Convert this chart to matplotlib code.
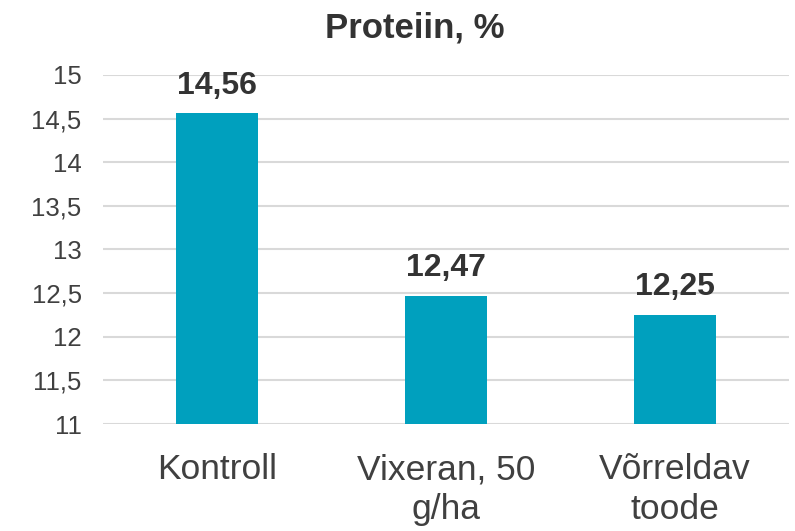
import matplotlib.pyplot as plt

categories = ["Kontroll", "Vixeran, 50\ng/ha", "Võrreldav\ntoode"]
values = [14.56, 12.47, 12.25]
yticks = [11, 11.5, 12, 12.5, 13, 13.5, 14, 14.5, 15]

plt.rcParams['font.family'] = ['Liberation Sans', 'DejaVu Sans']

fig = plt.figure(figsize=(7.95, 5.31), dpi=100)
ax = fig.add_axes([0.129, 0.2015, 0.864, 0.6573])

x = range(len(categories))
bars = ax.bar(x, values, width=0.36, color="#00A0BE", zorder=3)

ax.set_ylim(11, 15)
ax.set_xlim(-0.5, 2.5)
ax.set_yticks(yticks)
ax.set_yticklabels([f"{t:g}".replace(".", ",") for t in yticks], fontsize=18.5, color="#404040")
ax.set_xticks(list(x))
ax.set_xticklabels(categories, fontsize=25.5, color="#404040", linespacing=1.25)
ax.tick_params(axis="both", length=0)
ax.tick_params(axis="x", pad=21)
ax.tick_params(axis="y", pad=15)

ax.grid(axis="y", color="#D9D9D9", linewidth=1.5, zorder=0)
for s in ax.spines.values():
    s.set_visible(False)

for b, v in zip(bars, values):
    ax.annotate(f"{v:.2f}".replace(".", ","), (b.get_x() + b.get_width() / 2, v),
                xytext=(0, 9), textcoords="offset points", ha="center", va="bottom",
                fontsize=23, fontweight="bold", color="#333333")

fig.text(0.522, 0.978, "Proteiin, %", fontsize=25, fontweight="bold", color="#333333",
         ha="center", va="top")

fig.savefig("out.png", dpi=100)
